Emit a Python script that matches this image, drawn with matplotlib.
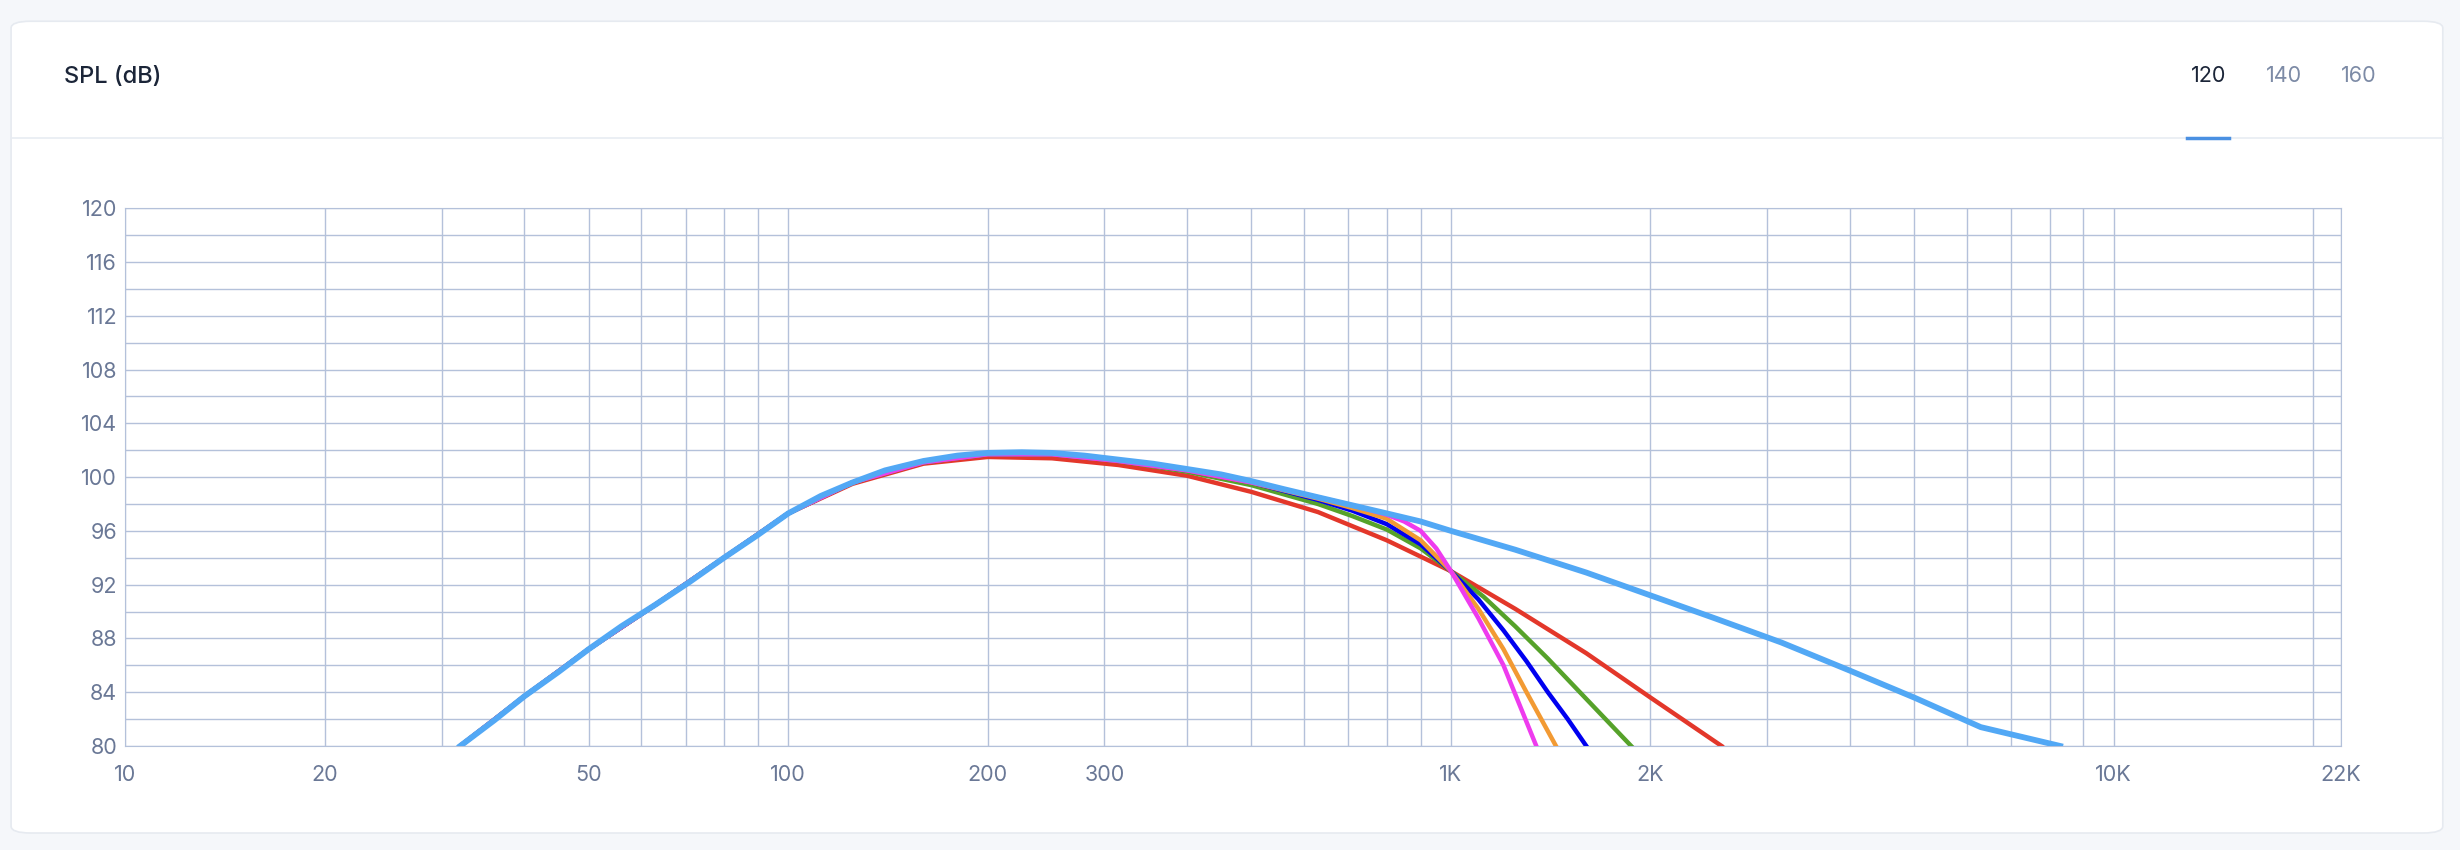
import matplotlib.pyplot as plt
from matplotlib.patches import FancyBboxPatch
from matplotlib.lines import Line2D
from matplotlib.ticker import FixedLocator, LogLocator, NullFormatter

plt.rcParams["font.family"] = ["Inter", "DejaVu Sans"]

# frequency response series (Hz, dB)
sky_f = [32, 36, 40, 45, 50, 56, 63, 71, 80, 90, 100, 112, 125, 140, 160, 180, 200, 225, 250, 280, 315,
         355, 400, 450, 500, 560, 630, 710, 800, 900, 1000, 1250, 1600, 2000, 2500, 3150, 4000, 5000, 6300, 8300]
sky_db = [80, 81.9, 83.7, 85.5, 87.2, 88.9, 90.5, 92.2, 94.0, 95.7, 97.3, 98.6, 99.6, 100.5, 101.2, 101.6, 101.8, 101.85, 101.8, 101.6, 101.3,
          101.0, 100.6, 100.2, 99.7, 99.1, 98.5, 97.9, 97.3, 96.7, 96.0, 94.6, 92.9, 91.2, 89.5, 87.7, 85.6, 83.6, 81.4, 80]

red_f = [32, 40, 50, 63, 80, 100, 125, 160, 200, 250, 315, 400, 500, 630, 800, 1000, 1250, 1600, 2000, 2560]
red_db = [80, 83.7, 87.2, 90.5, 94.0, 97.3, 99.5, 101.0, 101.5, 101.4, 100.9, 100.1, 98.9, 97.4, 95.3, 93.0, 90.2, 86.9, 83.6, 80]

green_f = [32, 40, 50, 63, 80, 100, 125, 160, 200, 250, 315, 400, 500, 630, 710, 800, 900, 1000, 1120, 1250, 1400, 1600, 1870]
green_db = [80, 83.7, 87.2, 90.5, 94.0, 97.3, 99.6, 101.1, 101.7, 101.7, 101.2, 100.4, 99.4, 98.0, 97.1, 96.1, 94.7, 93.0, 91.1, 88.9, 86.5, 83.5, 80]

blue_f = [32, 40, 50, 63, 80, 100, 125, 160, 200, 250, 315, 400, 500, 630, 710, 800, 900, 1000, 1100, 1200, 1300, 1400, 1500, 1600]
blue_db = [80, 83.7, 87.2, 90.5, 94.0, 97.3, 99.6, 101.1, 101.7, 101.7, 101.2, 100.5, 99.6, 98.3, 97.5, 96.5, 95.0, 93.0, 90.9, 88.6, 86.3, 84.0, 82.0, 80]

orange_f = [32, 40, 50, 63, 80, 100, 125, 160, 200, 250, 315, 400, 500, 630, 710, 800, 900, 1000, 1100, 1200, 1300, 1440]
orange_db = [80, 83.7, 87.2, 90.5, 94.0, 97.3, 99.6, 101.1, 101.7, 101.7, 101.2, 100.5, 99.6, 98.4, 97.7, 96.9, 95.3, 93.0, 90.2, 87.2, 84.0, 80]

magenta_f = [32, 40, 50, 63, 80, 100, 125, 160, 200, 250, 315, 400, 500, 630, 710, 800, 850, 900, 950, 1000, 1100, 1200, 1345]
magenta_db = [80, 83.7, 87.2, 90.5, 94.0, 97.3, 99.6, 101.1, 101.7, 101.7, 101.2, 100.5, 99.6, 98.5, 97.9, 97.2, 96.7, 96.0, 94.7, 93.0, 89.5, 86.0, 80]

x_ticks = [10, 20, 50, 100, 200, 300, 1000, 2000, 10000, 22000]
x_labels = ["10", "20", "50", "100", "200", "300", "1K", "2K", "10K", "22K"]
y_ticks = list(range(80, 121, 4))
tabs = ["120", "140", "160"]

fig = plt.figure(figsize=(24.6, 8.5), dpi=100)
fig.patch.set_facecolor("#F5F7FA")

# white card behind everything
card = FancyBboxPatch((0.0045, 0.02), 0.9885, 0.955, boxstyle="round,pad=0,rounding_size=0.008",
                      transform=fig.transFigure, facecolor="white", edgecolor="#E6EAF0", lw=1.2, zorder=-10)
fig.patches.append(card)
fig.add_artist(Line2D([0.0045, 0.993], [0.838, 0.838], color="#E8ECF2", lw=1.2))
fig.text(0.026, 0.91, "SPL (dB)", fontsize=17, color="#1B2538", fontweight="medium", va="center")
for i, t in enumerate(tabs):
    fig.text(0.898 + i * 0.0305, 0.91, t, fontsize=15.5, va="center", ha="center",
             color="#1B2538" if i == 0 else "#7D8BA6")
fig.add_artist(Line2D([0.889, 0.906], [0.838, 0.838], color="#4A90E2", lw=2.5))

ax = fig.add_axes([0.051, 0.1224, 0.9005, 0.6326])
ax.set_zorder(5)
ax.patch.set_alpha(0)
ax.set_xscale("log")
ax.set_xlim(10, 22000)
ax.set_ylim(80, 120)

grid_c = "#B4C1DA"
ax.xaxis.set_major_locator(FixedLocator(x_ticks))
ax.xaxis.set_minor_locator(LogLocator(base=10, subs=range(1, 10)))
ax.xaxis.set_minor_formatter(NullFormatter())
ax.set_xticklabels(x_labels)
ax.set_yticks(y_ticks)
ax.set_yticks(range(80, 121, 2), minor=True)
ax.grid(True, which="both", color=grid_c, lw=1.0)
for s in ax.spines.values():
    s.set_color(grid_c)
ax.tick_params(which="both", length=0, labelsize=15.5, colors="#6A7896", pad=14)
ax.tick_params(axis="y", pad=6)

ax.plot(red_f, red_db, color="#E3372A", lw=3.2, zorder=3)
ax.plot(green_f, green_db, color="#56A22A", lw=3.2, zorder=4)
ax.plot(blue_f, blue_db, color="#0000F0", lw=3.2, zorder=5)
ax.plot(orange_f, orange_db, color="#F29A33", lw=3.2, zorder=6)
ax.plot(magenta_f, magenta_db, color="#EE3BEE", lw=3.2, zorder=7)
ax.plot(sky_f, sky_db, color="#52A8F5", lw=4.2, zorder=8)

fig.savefig("out.png", dpi=100, facecolor=fig.get_facecolor())
